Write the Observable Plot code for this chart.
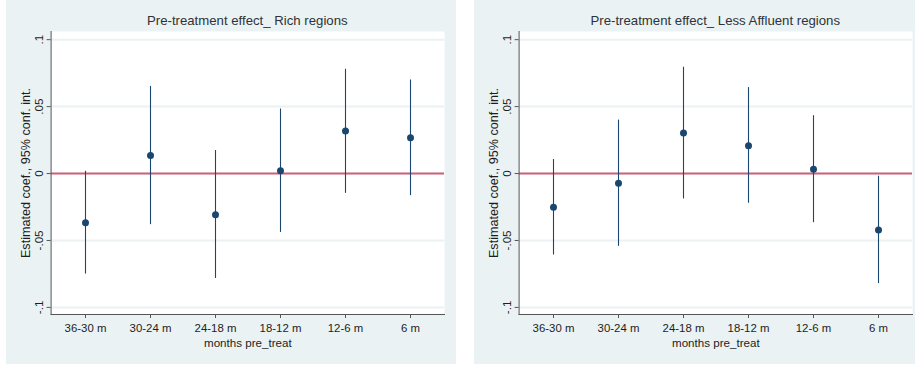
<!DOCTYPE html>
<html>
<head>
<meta charset="utf-8">
<script src="https://cdn.jsdelivr.net/npm/d3@7"></script>
<script src="https://cdn.jsdelivr.net/npm/@observablehq/plot@0.6"></script>
<style>
  html, body { margin: 0; padding: 0; background: #ffffff; }
  body { width: 915px; height: 368px; position: relative; overflow: hidden;
         font-family: "Liberation Sans", Arial, sans-serif; }
  .panel { position: absolute; top: 0; height: 364px; background: #eaf2f3; }
  .panel svg { position: absolute; left: 0; top: 0; }
  .title { position: absolute; top: 13px; text-align: center; font-size: 13.2px;
           color: #2e3338; white-space: nowrap; line-height: 16px; }
</style>
</head>
<body>
<div id="left" class="panel" style="left:6px;width:450px;"></div>
<div id="right" class="panel" style="left:474px;width:441px;"></div>
<script>
// ---- data ----
const categories = ["36-30 m", "30-24 m", "24-18 m", "18-12 m", "12-6 m", "6 m"];

const richTitle = "Pre-treatment effect_ Rich regions";
const richCoef = [-0.0367, 0.0135, -0.0307, 0.0020, 0.0317, 0.0267];
const richLow  = [-0.0751, -0.0382, -0.0784, -0.0440, -0.0148, -0.0165];
const richHigh = [0.0017, 0.0651, 0.0172, 0.0482, 0.0779, 0.0699];

const lessTitle = "Pre-treatment effect_ Less Affluent regions";
const lessCoef = [-0.0252, -0.0073, 0.0302, 0.0207, 0.0032, -0.0422];
const lessLow  = [-0.0609, -0.0544, -0.0190, -0.0222, -0.0367, -0.0822];
const lessHigh = [0.0105, 0.0399, 0.0794, 0.0642, 0.0432, -0.0020];

const yTicks = [-0.1, -0.05, 0, 0.05, 0.1];
const yTickLabels = ["-.1", "-.05", "0", ".05", ".1"];
const xTitle = "months pre_treat";
const yTitle = "Estimated coef., 95% conf. int.";

// ---- drawing ----
const navy = "#1a476f";
const bg = "#eaf2f3";
const labelOf = new Map(yTicks.map((t, i) => [t, yTickLabels[i]]));

function makePanel(el, title, coef, low, high, width, marginRight) {
  const data = categories.map((c, i) => ({cat: c, coef: coef[i], lo: low[i], hi: high[i]}));
  const marginLeft = 44.6;
  const chart = Plot.plot({
    width, height: 364,
    marginLeft, marginRight, marginTop: 31, marginBottom: 50,
    style: {background: "transparent", fontFamily: "'Liberation Sans', Arial, sans-serif",
            fontSize: "11.4px", color: "#1e1e1e", overflow: "visible"},
    x: {type: "point", domain: categories, padding: 0.5},
    y: {domain: [-0.1053, 0.1061]},
    marks: [
      Plot.frame({fill: "white", stroke: null}),
      Plot.gridY(yTicks, {stroke: "#ecf2f3", strokeOpacity: 1, strokeWidth: 2}),
      Plot.ruleY([0], {stroke: "#d0607a", strokeWidth: 2}),
      Plot.ruleX(data, {x: "cat", y1: "lo", y2: "hi", stroke: navy, strokeWidth: 1.1}),
      Plot.dot(data, {x: "cat", y: "coef", r: 3.5, fill: navy, stroke: null}),
      Plot.axisY(yTicks, {tickFormat: d => labelOf.get(d), tickRotate: -90, tickSize: 4,
                 tickPadding: 4, stroke: "#555", label: null, fontSize: 11.6}),
      Plot.axisX({tickSize: 4, tickPadding: 5, stroke: "#555", label: null, fontSize: 11.4}),
      Plot.text([yTitle], {frameAnchor: "left", dx: -25.6, rotate: -90, fontSize: 12.6,
                 lineAnchor: "middle", textAnchor: "middle", fill: "#1e1e1e"}),
      Plot.text([xTitle], {frameAnchor: "bottom", dy: 29, fontSize: 11.6,
                 lineAnchor: "middle", textAnchor: "middle", fill: "#1e1e1e"}),
      Plot.frame({anchor: "left", stroke: "#555", strokeOpacity: 1}),
      Plot.frame({anchor: "bottom", stroke: "#555", strokeOpacity: 1})
    ]
  });
  el.appendChild(chart);
  const t = document.createElement("div");
  t.className = "title";
  t.textContent = title;
  const plotW = width - marginLeft - marginRight;
  t.style.left = marginLeft + "px";
  t.style.width = plotW + "px";
  el.appendChild(t);
}

makePanel(document.getElementById("left"), richTitle, richCoef, richLow, richHigh, 450, 12);
makePanel(document.getElementById("right"), lessTitle, lessCoef, lessLow, lessHigh, 441, 3);
</script>
</body>
</html>
